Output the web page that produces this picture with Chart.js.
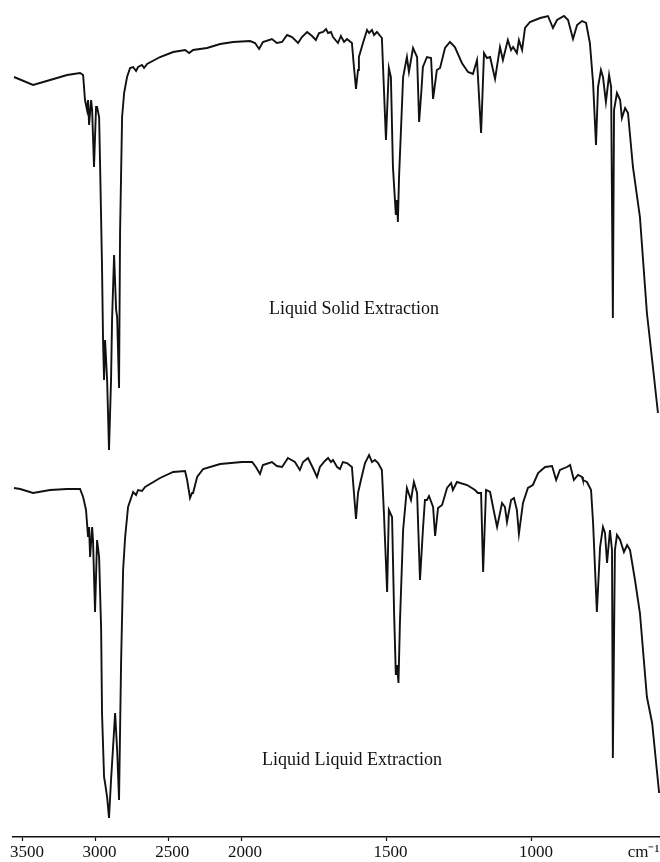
<!DOCTYPE html>
<html>
<head>
<meta charset="utf-8">
<script src="https://cdn.jsdelivr.net/npm/chart.js@4/dist/chart.umd.min.js"></script>
<style>
html,body{margin:0;padding:0;background:#fff;}
#wrap{width:660px;height:862px;}
</style>
</head>
<body>
<div id="wrap"><canvas id="c" width="660" height="862"></canvas></div>
<script>
// Axis tick labels (wavenumbers, cm-1)
const tickWavenumbers = [3500, 3000, 2500, 2000, 1500, 1000];
const unitLabel = 'cm\u207B\u00B9';
const unitWavenumber = 630;

// Spectrum titles
const titles = ['Liquid Solid Extraction', 'Liquid Liquid Extraction'];

// Top spectrum: Liquid Solid Extraction (wavenumber, transmittance)
const lseWavenumber = [3561,3430,3313,3196,3107,3086,3073,3059,3052,3045,3031,3024,3011,2997,2990,2976,2969,2956,2949,2942,2935,2921,2914,2908,2894,2887,2873,2859,2852,2839,2832,2818,2804,2784,2763,2742,2722,2708,2681,2667,2646,2557,2467,2385,2357,2330,2234,2144,2055,1969,1952,1938,1925,1894,1877,1859,1842,1825,1804,1791,1773,1756,1743,1732,1718,1708,1701,1691,1684,1667,1657,1646,1636,1619,1612,1605,1598,1595,1581,1567,1560,1550,1543,1533,1516,1512,1502,1492,1485,1478,1468,1464,1461,1457,1443,1430,1423,1409,1395,1388,1380,1375,1361,1347,1340,1327,1316,1299,1282,1265,1241,1220,1203,1189,1175,1165,1155,1144,1127,1110,1100,1083,1072,1065,1052,1045,1034,1024,1007,972,945,928,914,890,876,859,845,828,814,801,790,780,773,763,756,746,735,728,722,718,708,697,691,680,670,653,629,605,587,567];
const lseTransmittance = [84.6,83,84,85,85.4,85,80,78,80,75,80,78,66.6,78.6,78.6,76.6,66.6,46.6,32,24,32,24,16.6,10,24,36,49,38,36.6,22.4,53.4,76.6,81.4,84.6,86.4,86.6,85.8,86.6,87,86.4,87.2,88.6,89.6,90,89.4,90,90.4,91.2,91.6,91.8,91.4,90.2,91.6,92.2,91.4,91.6,93,92.6,91.4,92.6,93.6,92.8,92,93.4,93.6,94.2,93.4,93.6,92.6,91.4,92.8,91.6,92.2,91.4,86.6,82.2,86,88.6,91.4,94,93.4,94,93,93.6,92.4,86.6,72,86.4,84.6,66.6,57,60,55.6,64.6,84.6,88.6,85.6,90.4,88.6,75.6,82,86.6,88.6,88.4,80.2,86,86.4,90.4,91.6,90.6,87.4,85.6,85.2,88,73.4,89.4,88.4,88.6,84.2,90.6,88,92,90,90.6,89.4,92,90,94.4,95.6,96.4,96.8,94.4,96,96.8,96,92.2,95,95.8,95.4,91.4,83.4,71,82.6,86,84.6,79.6,85,82.6,36.4,78,81.4,80,76.4,78.4,77.4,66.6,56.6,37.4,28,17.4];

// Bottom spectrum: Liquid Liquid Extraction (wavenumber, transmittance)
const lleWavenumber = [3561,3519,3430,3313,3196,3107,3086,3066,3052,3045,3038,3024,3018,3004,2990,2976,2962,2956,2942,2935,2921,2908,2894,2880,2866,2852,2839,2825,2811,2797,2777,2742,2722,2708,2681,2660,2557,2467,2385,2371,2351,2337,2330,2302,2261,2144,1997,1962,1949,1935,1925,1894,1877,1859,1839,1815,1798,1787,1770,1753,1739,1729,1712,1701,1691,1684,1670,1660,1650,1636,1619,1612,1605,1598,1588,1574,1560,1550,1540,1529,1516,1509,1498,1492,1481,1474,1468,1464,1459,1454,1443,1430,1416,1406,1395,1385,1375,1368,1361,1354,1340,1333,1323,1309,1292,1278,1272,1258,1223,1196,1186,1175,1168,1158,1144,1134,1120,1103,1093,1086,1072,1062,1052,1045,1031,1014,997,979,955,931,917,904,880,869,856,842,828,825,811,797,790,777,766,756,749,742,732,725,722,715,708,697,684,673,663,646,629,605,587,563];
const lleTransmittance = [87.4,87.2,86.4,87,87.2,87.2,85.6,83,77.6,79.6,73.6,79.6,77,62.6,77,73.6,59,42.4,29.6,28.4,25.6,21.4,29,35.6,42.4,35,25,52.4,71,77.6,83.6,86.6,86,87,86.8,87.6,89.4,90.6,90.8,89,85.4,86.4,86.4,89.6,91.2,92.2,92.6,92.6,91.6,90.2,92,92.6,91.8,91.6,93.4,92.6,91,92.6,93.4,91.4,89.6,91.6,92.8,93.4,92.6,93,91.6,91.2,92.6,92.4,91.6,86.4,81.2,86.4,89,92.4,94,92.6,93,92.4,91,82.4,66.6,83,81.6,62.4,50,52,48.4,60.4,79,87.4,85,88.6,86.4,69,79,85,85,85.8,83.6,77.8,83.4,84,87.4,88.4,87,88.6,88,87,86.4,86.4,70.6,87,86.6,83.6,79.6,84.4,83.6,80.6,85,85.4,83,78.2,84.4,87.4,88,90.4,91.6,91.8,89,91,91.6,92,89,90,89.6,89,88.6,87,80.4,62.6,75.6,79.6,78.4,72.4,79,75,33.4,75,78,77,74.6,76,75,69,62.4,45.6,40.4,26.4];

// Instrument axis: 2x expanded below 2000 cm-1
function toAxis(w){ return w > 2000 ? 2000 + (w - 2000) / 2 : w; }

const toPoints = (ws, ts) => ws.map((w, i) => ({x: toAxis(w), y: ts[i]}));

const tickValues = tickWavenumbers.map(toAxis).concat([toAxis(unitWavenumber)]);
const tickText = tickWavenumbers.map(String).concat([unitLabel]);

const titlePlugin = {
  id: 'titles',
  afterDraw(chart){
    const ctx = chart.ctx;
    ctx.save();
    ctx.fillStyle = '#111';
    ctx.font = '18px "Liberation Serif", "Times New Roman", serif';
    ctx.textBaseline = 'alphabetic';
    ctx.textAlign = 'left';
    ctx.fillText(titles[0], 269, 314);
    ctx.fillText(titles[1], 262, 765);
    ctx.restore();
  }
};

new Chart(document.getElementById('c'), {
  type: 'line',
  data: {
    datasets: [
      {label: titles[0], data: toPoints(lseWavenumber, lseTransmittance), yAxisID: 'yTop',
       borderColor: '#111', borderWidth: 1.9, pointRadius: 0, tension: 0, fill: false},
      {label: titles[1], data: toPoints(lleWavenumber, lleTransmittance), yAxisID: 'yBot',
       borderColor: '#111', borderWidth: 1.9, pointRadius: 0, tension: 0, fill: false}
    ]
  },
  options: {
    responsive: false,
    animation: false,
    devicePixelRatio: 1,
    layout: {padding: {left: 13, right: 0, top: 0, bottom: 0}},
    plugins: {legend: {display: false}, tooltip: {enabled: false}, title: {display: false}},
    scales: {
      x: {
        type: 'linear',
        reverse: true,
        min: 560,
        max: 2784,
        afterBuildTicks(scale){ scale.ticks = tickValues.map(v => ({value: v})); },
        afterFit(scale){ scale.height = 25; },
        ticks: {
          autoSkip: false, maxRotation: 0, minRotation: 0, padding: 1, labelOffset: 4,
          color: '#111',
          font: {family: '"Liberation Serif", "Times New Roman", serif', size: 17},
          callback: (v, i) => tickText[i]
        },
        grid: {
          drawOnChartArea: false, drawTicks: true, tickLength: 4,
          tickColor: ctx => (ctx.tick && ctx.tick.value === toAxis(unitWavenumber)) ? 'rgba(0,0,0,0)' : '#111',
          tickWidth: 1.2
        },
        border: {display: true, color: '#111', width: 1.5}
      },
      yTop: {type: 'linear', display: false, min: -67.4, max: 100},
      yBot: {type: 'linear', display: false, min: 17.6, max: 185}
    }
  },
  plugins: [titlePlugin]
});
</script>
</body>
</html>
